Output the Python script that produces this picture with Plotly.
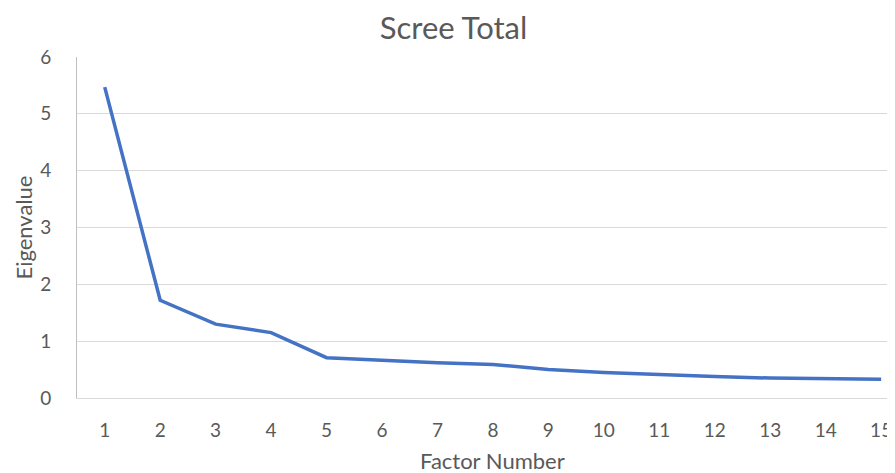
import plotly.graph_objects as go

factor_number = [1, 2, 3, 4, 5, 6, 7, 8, 9, 10, 11, 12, 13, 14, 15]
eigenvalues = [5.47, 1.72, 1.30, 1.15, 0.71, 0.66, 0.62, 0.59, 0.50, 0.45, 0.41, 0.38, 0.35, 0.34, 0.33]

FONT = "Lato, Open Sans, sans-serif"
GREY = "#595959"

# page body has an 8px margin, so figure is 887x465 placed at (8, 8)
W, H = 887, 465
L, R, T, B = 69, 0, 49, 75
PW, PH = W - L - R, H - T - B
X0, X1 = 0.5, 15.25  # plot area in the reference runs past the right edge

fig = go.Figure()
fig.add_trace(go.Scatter(
    x=factor_number, y=eigenvalues, mode="lines",
    line=dict(color="#4472C4", width=3.5),
    showlegend=False, cliponaxis=False,
))

fig.update_layout(
    width=W, height=H,
    margin=dict(l=L, r=R, t=T, b=B, autoexpand=False),
    paper_bgcolor="white", plot_bgcolor="white",
    font=dict(family=FONT, color=GREY, size=16),
    title=dict(text="Scree Total", x=(453.5 - 8) / W, xanchor="center", y=1 - 20 / H,
               yanchor="middle", yref="container",
               font=dict(size=31, color=GREY, family=FONT)),
    xaxis=dict(
        range=[X0, X1], tickvals=factor_number, ticktext=[str(v) for v in factor_number],
        showgrid=False, zeroline=False, showline=True, linecolor="#D9D9D9", linewidth=1,
        ticks="", ticklabelstandoff=15, tickfont=dict(size=19, color=GREY),
        automargin=False,
    ),
    yaxis=dict(
        range=[0, 6], dtick=1, showgrid=True, gridcolor="#D9D9D9", gridwidth=1,
        zeroline=False, showline=True, linecolor="#BFBFBF", linewidth=1,
        ticks="", ticklabelstandoff=21, tickfont=dict(size=19, color=GREY),
        automargin=False,
    ),
    annotations=[
        dict(text="Factor Number", xref="paper", yref="paper", x=(492 - 77) / PW, y=-62 / PH,
             xanchor="center", yanchor="middle", showarrow=False,
             font=dict(size=22, color=GREY, family=FONT)),
        dict(text="Eigenvalue", xref="paper", yref="paper", x=-(L - 15) / PW, y=0.5,
             xanchor="center", yanchor="middle", showarrow=False, textangle=-90,
             font=dict(size=22, color=GREY, family=FONT)),
    ],
)

fig.write_html("out.html")
